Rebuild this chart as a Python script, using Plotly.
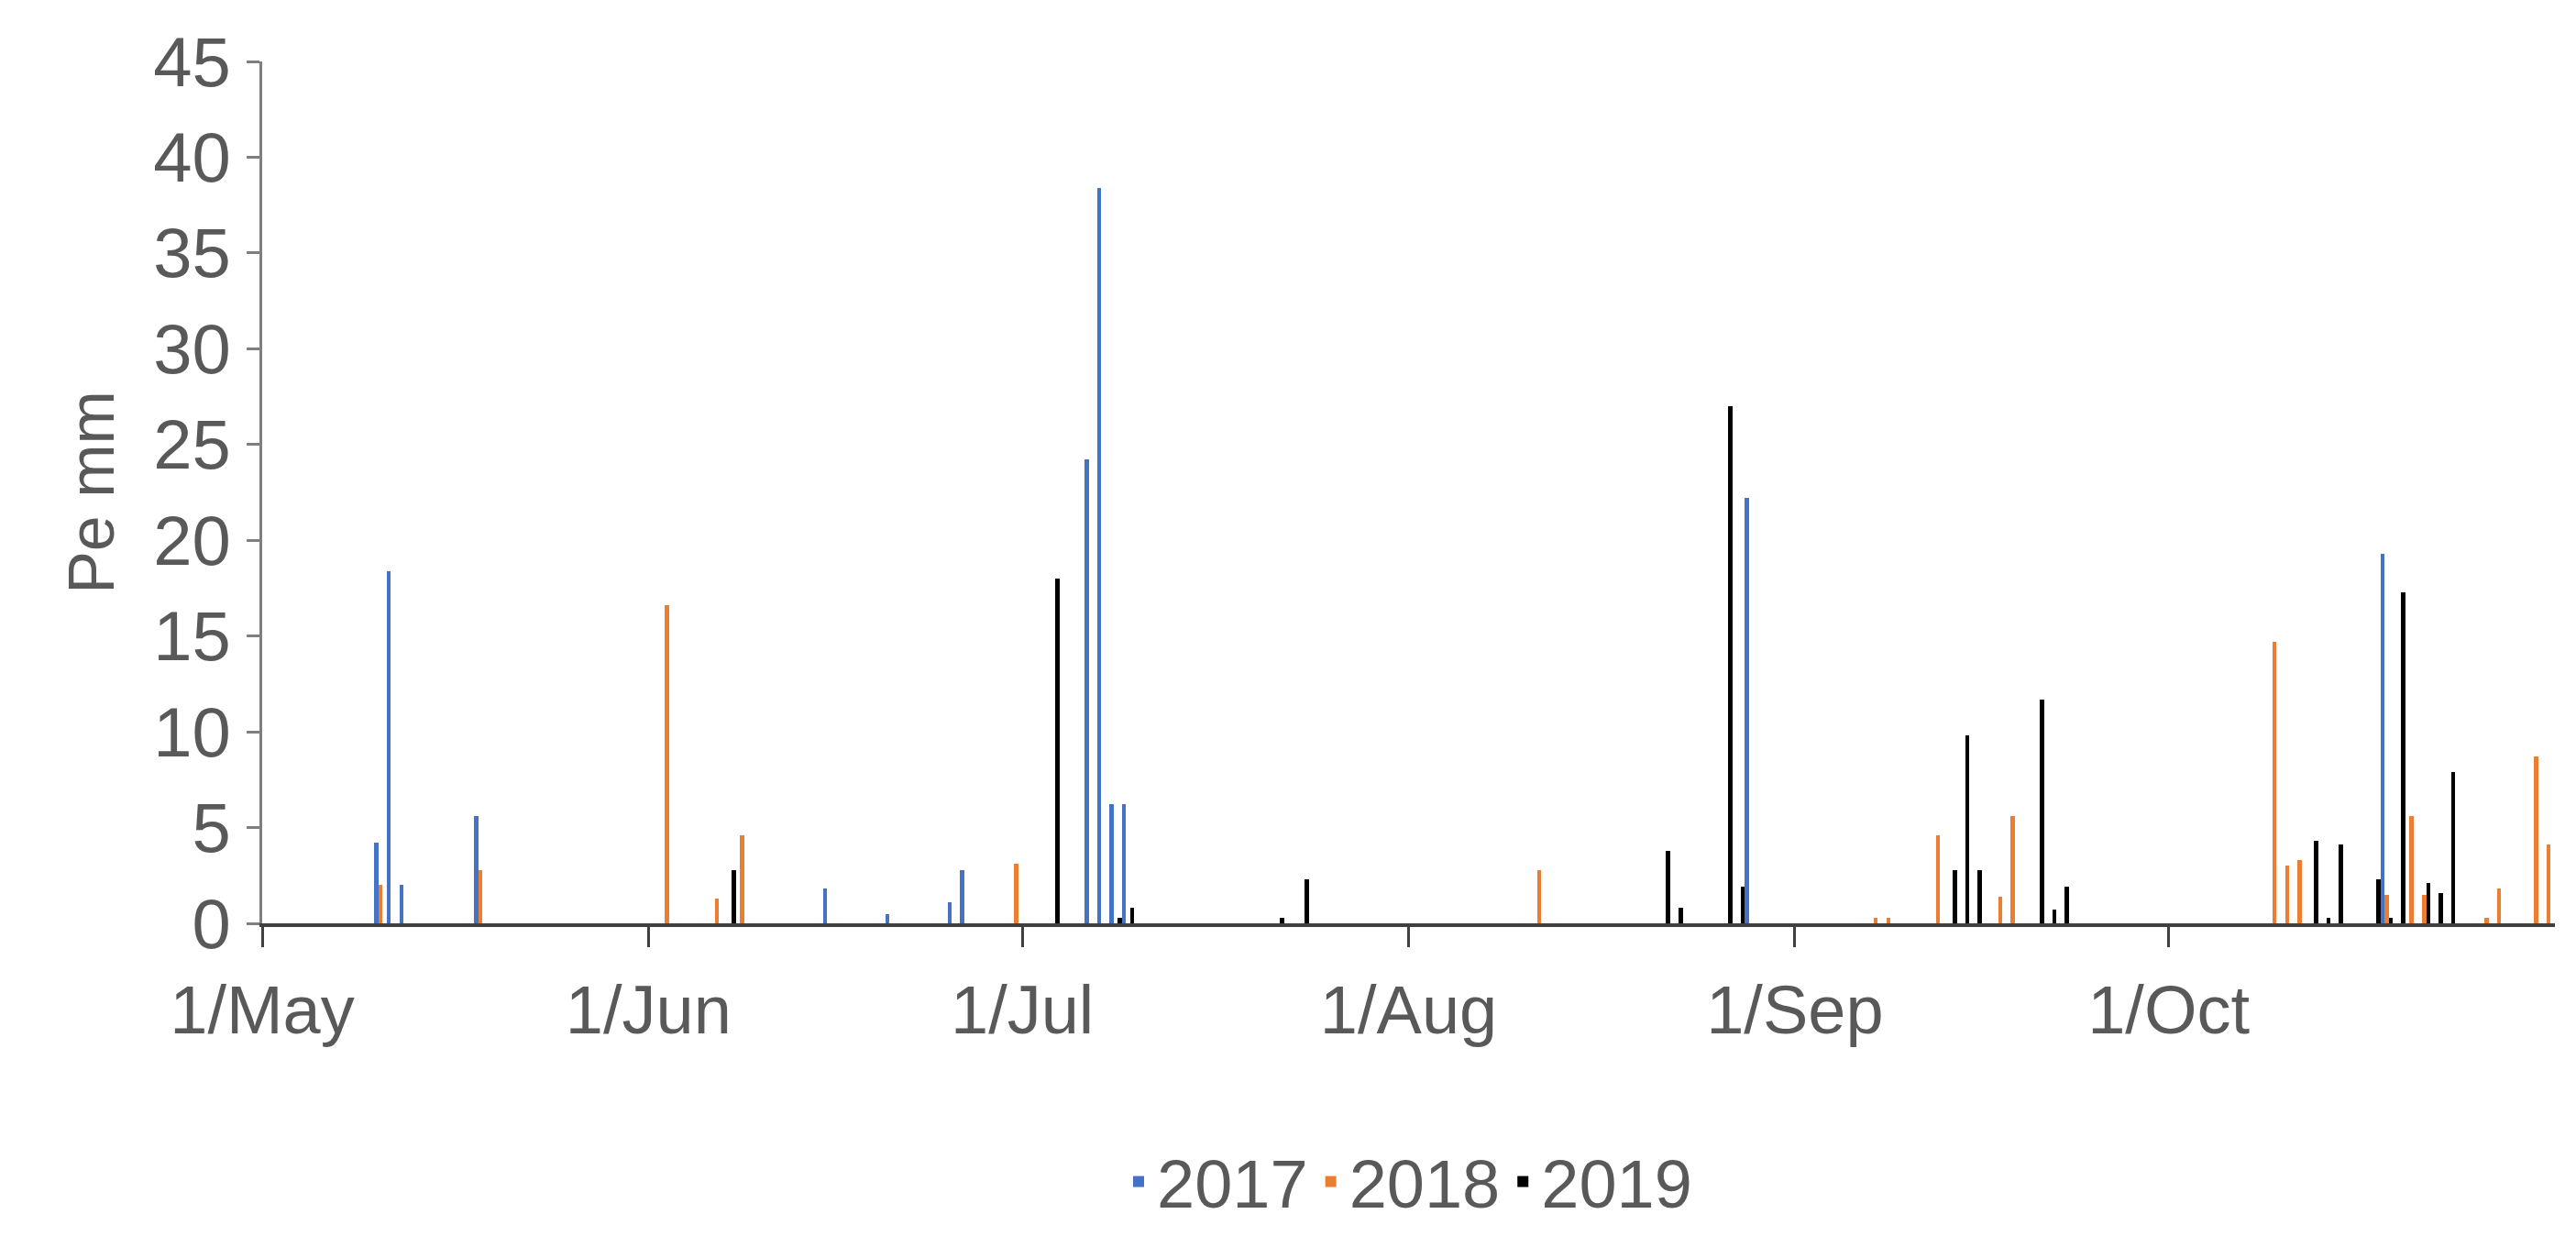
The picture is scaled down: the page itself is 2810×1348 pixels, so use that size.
import plotly.graph_objects as go

YEAR = "2019"
d2017 = ["05-10","05-11","05-12","05-18","06-15","06-20","06-25","06-26","07-06","07-07","07-08","07-09","08-28","10-18"]
v2017 = [4.2,18.4,2.0,5.6,1.8,0.5,1.1,2.8,24.2,38.4,6.2,6.2,22.2,19.3]
d2018 = ["05-10","05-18","06-02","06-06","06-08","06-30","08-11","09-07","09-08","09-12","09-17","09-18","10-09","10-10","10-11","10-18","10-20","10-21","10-26","10-27","10-30","10-31"]
v2018 = [2.0,2.8,16.6,1.3,4.6,3.1,2.8,0.3,0.3,4.6,1.4,5.6,14.7,3.0,3.3,1.5,5.6,1.5,0.3,1.8,8.7,4.1]
d2019 = ["06-07","07-03","07-08","07-09","07-21","07-23","08-21","08-22","08-26","08-27","09-13","09-14","09-15","09-20","09-21","09-22","10-12","10-13","10-14","10-17","10-18","10-19","10-21","10-22","10-23"]
v2019 = [2.8,18.0,0.3,0.8,0.3,2.3,3.8,0.8,27.0,1.9,2.8,9.8,2.8,11.7,0.7,1.9,4.3,0.3,4.1,2.3,0.3,17.3,2.1,1.6,7.9]
tick_dates = ["05-01","06-01","07-01","08-01","09-01","10-01"]

def dt(ds):
    return [f"{YEAR}-{d} 12:00" for d in ds]

fig = go.Figure()
for name, ds, vs, col in [("2017", d2017, v2017, "#4472C4"),
                          ("2018", d2018, v2018, "#ED7D31"),
                          ("2019", d2019, v2019, "#000000")]:
    fig.add_trace(go.Bar(name=name, x=dt(ds), y=vs, marker_color=col,
                         marker_line_width=0, offsetgroup=name))

font = dict(family="Liberation Sans, Arial", color="#595959", size=74)
fig.update_layout(
    barmode="group", bargap=0.0, bargroupgap=0,
    width=2810, height=1348, plot_bgcolor="white", paper_bgcolor="white",
    margin=dict(l=278, r=31, t=59, b=313), font=font,
    legend=dict(orientation="h", x=0.5, xanchor="center", y=-0.3, yanchor="middle",
                font=dict(size=74), itemwidth=30, traceorder="normal"),
    xaxis=dict(type="date", range=[f"{YEAR}-05-01", f"{YEAR}-11-01"],
               tickvals=[f"{YEAR}-{d}" for d in tick_dates], tickformat="%-d/%b",
               showline=True, linecolor="#404040", linewidth=4, ticks="outside",
               ticklen=22, tickwidth=3, tickcolor="#404040", showgrid=False,
               tickfont=dict(size=74), ticklabelstandoff=5),
    yaxis=dict(range=[0, 45], dtick=5, showline=True, linecolor="#7f7f7f",
               linewidth=3, ticks="outside", ticklen=14, tickwidth=3,
               tickcolor="#7f7f7f", showgrid=False, zeroline=False,
               title=dict(text="Pe mm", font=dict(size=70), standoff=20),
               tickfont=dict(size=76), ticklabelstandoff=2),
)
fig.write_html("out.html")
